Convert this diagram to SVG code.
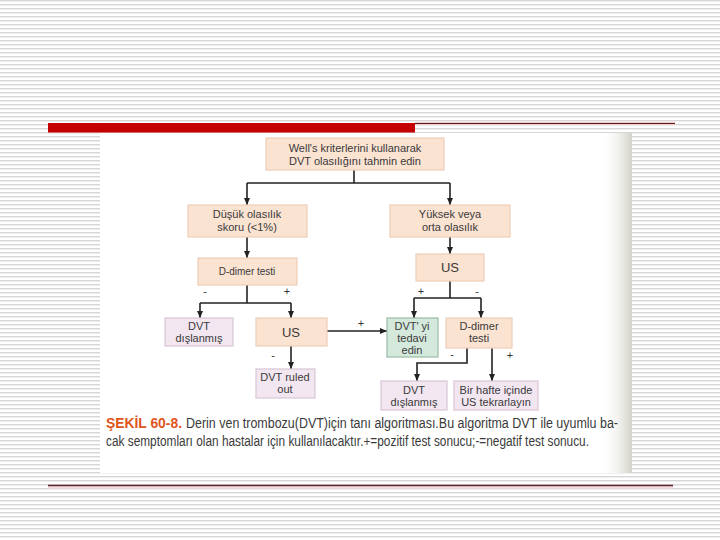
<svg xmlns="http://www.w3.org/2000/svg" width="720" height="540" viewBox="0 0 720 540">
<defs>
<pattern id="stripes" patternUnits="userSpaceOnUse" width="8" height="4">
<rect x="0" y="0" width="8" height="4" fill="#ffffff"/>
<rect x="0" y="0" width="8" height="1.4" fill="#d6d6d6"/>
</pattern>
<linearGradient id="edge" x1="0" y1="0" x2="1" y2="0">
<stop offset="0" stop-color="#ffffff" stop-opacity="0"/>
<stop offset="1" stop-color="#d2d2c8"/>
</linearGradient>
<marker id="arr" markerWidth="8" markerHeight="8" refX="7" refY="4" orient="auto" markerUnits="userSpaceOnUse">
<path d="M0,1 L7,4 L0,7 Z" fill="#222"/>
</marker>
<style>
.peach{fill:#fbe3d2;stroke:#eecdb6;stroke-width:1.2}
.lav{fill:#f2e6f1;stroke:#d8c6d6;stroke-width:1.2}
.green{fill:#d4e8dc;stroke:#98bca6;stroke-width:1.2}
.t{font-family:"Liberation Sans",Arial,sans-serif;font-size:11px;fill:#3a3a3a;text-anchor:middle}
.big{font-size:13px}
.sm{font-size:10px}
.c{fill:none;stroke:#222;stroke-width:1.6}
.lbl{font-family:"Liberation Sans",Arial,sans-serif;font-size:11px;fill:#333;text-anchor:middle}
.cap{font-family:"Liberation Sans",Arial,sans-serif;font-size:14px;fill:#3a3a3a}
.capb{font-family:"Liberation Sans",Arial,sans-serif;font-size:15px;font-weight:bold;fill:#e0541c}
</style>
</defs>
<rect x="0" y="0" width="720" height="540" fill="url(#stripes)"/>
<rect x="100" y="133" width="532" height="340" fill="#ffffff"/>
<rect x="600" y="133" width="32" height="340" fill="url(#edge)"/>
<rect x="48" y="123" width="367" height="9.5" fill="#c40000"/>
<line x1="415" y1="123.5" x2="675" y2="123.5" stroke="#f0c8c8" stroke-width="3"/>
<line x1="415" y1="123.5" x2="675" y2="123.5" stroke="#5a1e24" stroke-width="1.2"/>
<line x1="48" y1="487" x2="673" y2="487" stroke="#f6dede" stroke-width="3"/>
<line x1="48" y1="485.5" x2="673" y2="485.5" stroke="#5a2a30" stroke-width="1.6"/>

<g id="connectors">
<path class="c" d="M354,170 V183"/>
<path class="c" d="M247,183 H450"/>
<path class="c" d="M247,183 V205" marker-end="url(#arr)"/>
<path class="c" d="M450,183 V205" marker-end="url(#arr)"/>
<path class="c" d="M247,237 V258" marker-end="url(#arr)"/>
<path class="c" d="M450,237 V254" marker-end="url(#arr)"/>
<path class="c" d="M247,285 V303"/>
<path class="c" d="M200,303 H291"/>
<path class="c" d="M200,303 V318" marker-end="url(#arr)"/>
<path class="c" d="M291,303 V318" marker-end="url(#arr)"/>
<path class="c" d="M291,346 V369" marker-end="url(#arr)"/>
<path class="c" d="M327,331 H387" marker-end="url(#arr)"/>
<path class="c" d="M450,281 V298"/>
<path class="c" d="M414,298 H481"/>
<path class="c" d="M414,298 V318" marker-end="url(#arr)"/>
<path class="c" d="M481,298 V318" marker-end="url(#arr)"/>
<path class="c" d="M467,348 V363 H417 V381" marker-end="url(#arr)"/>
<path class="c" d="M492,348 V381" marker-end="url(#arr)"/>
<text class="lbl" x="205" y="295">-</text>
<text class="lbl" x="287" y="295">+</text>
<text class="lbl" x="273" y="359">-</text>
<text class="lbl" x="361" y="327">+</text>
<text class="lbl" x="421" y="295">+</text>
<text class="lbl" x="477" y="295">-</text>
<text class="lbl" x="452" y="358">-</text>
<text class="lbl" x="510" y="359">+</text>
</g>

<g id="n-wells">
<rect class="peach" x="266" y="138" width="178" height="32"/>
<text class="t" x="355" y="152">Well's kriterlerini kullanarak</text>
<text class="t" x="355" y="165">DVT olasılığını tahmin edin</text>
</g>
<g id="n-dusuk">
<rect class="peach" x="188" y="205" width="119" height="32"/>
<text class="t" x="247" y="218">Düşük olasılık</text>
<text class="t" x="247" y="231">skoru (&lt;1%)</text>
</g>
<g id="n-yuksek">
<rect class="peach" x="390" y="205" width="120" height="32"/>
<text class="t" x="450" y="218">Yüksek veya</text>
<text class="t" x="450" y="231">orta olasılık</text>
</g>
<g id="n-ddimer1">
<rect class="peach" x="198" y="258" width="99" height="27"/>
<text class="t sm" x="247" y="275">D-dimer testi</text>
</g>
<g id="n-us1">
<rect class="peach" x="416" y="254" width="68" height="27"/>
<text class="t big" x="450" y="272">US</text>
</g>
<g id="n-dvtdislanmis1">
<rect class="lav" x="165" y="318" width="68" height="28"/>
<text class="t" x="199" y="330">DVT</text>
<text class="t" x="199" y="342">dışlanmış</text>
</g>
<g id="n-us2">
<rect class="peach" x="256" y="318" width="71" height="28"/>
<text class="t big" x="291" y="337">US</text>
</g>
<g id="n-ruledout">
<rect class="lav" x="256" y="369" width="59" height="29"/>
<text class="t" x="285" y="381">DVT ruled</text>
<text class="t" x="285" y="393">out</text>
</g>
<g id="n-tedavi">
<rect class="green" x="387" y="318" width="51" height="39"/>
<text class="t" x="412" y="330">DVT' yi</text>
<text class="t" x="412" y="342">tedavi</text>
<text class="t" x="412" y="354">edin</text>
</g>
<g id="n-ddimer2">
<rect class="peach" x="446" y="318" width="66" height="30"/>
<text class="t" x="479" y="330">D-dimer</text>
<text class="t" x="479" y="342">testi</text>
</g>
<g id="n-dvtdislanmis2">
<rect class="lav" x="381" y="381" width="66" height="29"/>
<text class="t" x="414" y="394">DVT</text>
<text class="t" x="414" y="406">dışlanmış</text>
</g>
<g id="n-birhafte">
<rect class="lav" x="454" y="381" width="84" height="29"/>
<text class="t" x="496" y="394">Bir hafte içinde</text>
<text class="t" x="496" y="406">US tekrarlayın</text>
</g>

<g id="caption">
<text class="capb" x="106" y="428" textLength="76" lengthAdjust="spacingAndGlyphs">ŞEKİL 60-8.</text>
<text class="cap" x="186" y="428" textLength="432" lengthAdjust="spacingAndGlyphs">Derin ven trombozu(DVT)için tanı algoritması.Bu algoritma DVT ile uyumlu ba-</text>
<text class="cap" x="106" y="446" textLength="483" lengthAdjust="spacingAndGlyphs">cak semptomları olan hastalar için kullanılacaktır.+=pozitif test sonucu;-=negatif test sonucu.</text>
</g>
</svg>
